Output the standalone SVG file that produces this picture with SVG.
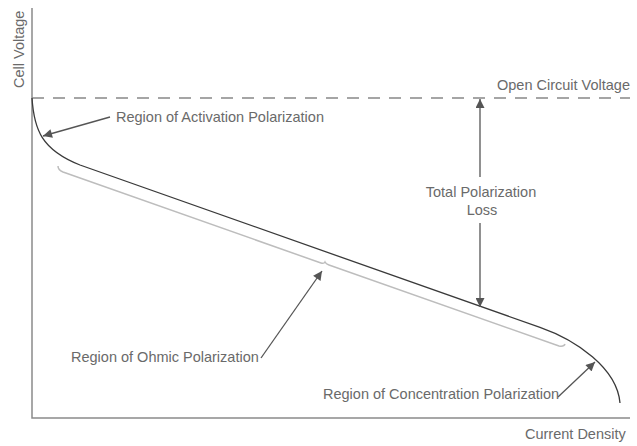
<svg xmlns="http://www.w3.org/2000/svg" width="637" height="446" viewBox="0 0 637 446">
<style>
text{font-family:"Liberation Sans",Arial,sans-serif;font-size:14.5px;fill:#6a6a6a}
.axis{stroke:#8a8a8a;stroke-width:1.5;fill:none}
.curve{stroke:#3a3a3a;stroke-width:1.3;fill:none}
.brace{stroke:#bdbdbd;stroke-width:1.5;fill:none}
.arr{stroke:#555;stroke-width:1.3;fill:none;marker-end:url(#ah)}
</style>
<defs>
<marker id="ah" viewBox="0 0 10 10" refX="10" refY="5" markerWidth="10" markerHeight="9" markerUnits="userSpaceOnUse" orient="auto">
<path d="M0,0 L10,5 L0,10 Z" fill="#555"/>
</marker>
</defs>
<g id="axes">
<path class="axis" d="M32,8 V418 H630"/>
<text transform="translate(24,88) rotate(-90)">Cell Voltage</text>
<text x="525" y="439">Current Density</text>
</g>
<g id="ocv">
<line x1="32" y1="98" x2="630" y2="98" stroke="#888" stroke-width="1.3" stroke-dasharray="12,9"/>
<text x="497" y="90">Open Circuit Voltage</text>
</g>
<g id="curve">
<path class="curve" d="M32,98 C34,130 42,150 80,165 L540,327.4 C576,340 617,368 620,403"/>
</g>
<g id="ohmic-brace">
<path class="brace" d="M58,166 Q58,170 63,172 L321,263 Q324,264 325,262 Q326,264 329,265 L559,346 Q564,347 565,344"/>
</g>
<g id="connectors">
<line class="arr" x1="110" y1="117" x2="43" y2="136"/>
<line class="arr" x1="480" y1="177" x2="480" y2="99"/>
<line class="arr" x1="480" y1="223" x2="480" y2="307"/>
<line class="arr" x1="261" y1="358" x2="322" y2="271"/>
<line class="arr" x1="558" y1="397" x2="595" y2="362"/>
</g>
<g id="label-activation"><text x="116" y="122">Region of Activation Polarization</text></g>
<g id="label-total"><text x="481" y="197" text-anchor="middle">Total Polarization</text><text x="482" y="215" text-anchor="middle">Loss</text></g>
<g id="label-ohmic"><text x="71" y="362">Region of Ohmic Polarization</text></g>
<g id="label-concentration"><text x="323" y="399">Region of Concentration Polarization</text></g>
</svg>
